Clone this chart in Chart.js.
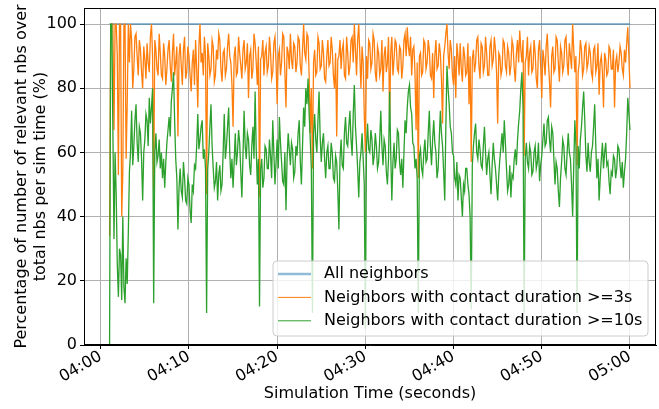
<!DOCTYPE html>
<html>
<head>
<meta charset="utf-8">
<script src="https://cdn.jsdelivr.net/npm/chart.js@4.4.0/dist/chart.umd.min.js"></script>
<style>
  html, body { margin: 0; padding: 0; background: #fff; }
</style>
</head>
<body>
<canvas id="nbChart" width="659" height="409"></canvas>
<script>
// samples every 7.5 s, starting one minute after 04:00 (8 samples per minute)
var startMinute = 1;
var stepMinute = 0.125;

var allNeighborsTimes = [1, 60];
var allNeighbors = [100, 100];

// one row per minute, 04:01 .. 04:59, then the 05:00 sample
var contact3s = [
  34, 100, 100, 100, 67, 100, 100, 90,
  53, 100, 100, 40, 54, 100, 100, 58,
  75, 100, 88, 100, 95, 80, 86, 96,
  97, 90, 84, 95, 92, 85, 80, 93,
  89, 83, 94, 88, 85, 96, 100, 90,
  48, 95, 92, 86, 84, 97, 91, 84,
  83, 94, 90, 81, 86, 92, 95, 87,
  82, 91, 97, 84, 88, 93, 65, 90,
  94, 87, 81, 92, 96, 83, 85, 93,
  90, 84, 79, 88, 92, 81, 95, 86,
  74, 93, 100, 88, 91, 84, 96, 90,
  47, 94, 90, 84, 86, 95, 93, 82,
  84, 92, 89, 97, 95, 86, 82, 91,
  92, 84, 86, 93, 97, 90, 88, 81,
  68, 90, 93, 84, 85, 96, 91, 87,
  83, 92, 95, 86, 88, 94, 77, 90,
  92, 83, 86, 97, 94, 88, 81, 93,
  46, 89, 90, 95, 84, 91, 93, 85,
  87, 96, 91, 83, 85, 94, 96, 88,
  75, 90, 92, 84, 88, 97, 96, 85,
  74, 93, 91, 86, 97, 89, 86, 94,
  93, 85, 88, 96, 95, 87, 84, 92,
  100, 91, 89, 97, 96, 84, 66, 80,
  55, 88, 92, 84, 85, 96, 94, 86,
  87, 95, 91, 83, 82, 90, 95, 87,
  88, 96, 92, 84, 80, 91, 65, 89,
  90, 95, 86, 92, 94, 84, 83, 96,
  91, 84, 87, 95, 96, 88, 100, 92,
  84, 95, 100, 90, 80, 93, 88, 72,
  60, 90, 83, 95, 94, 86, 88, 97,
  95, 85, 82, 93, 91, 84, 86, 95,
  79, 90, 93, 85, 88, 96, 70, 91,
  96, 84, 89, 95, 94, 86, 85, 93,
  92, 83, 87, 95, 97, 90, 99, 93,
  90, 96, 84, 92, 93, 85, 67, 88,
  52, 90, 91, 84, 85, 95, 94, 86,
  88, 95, 92, 84, 83, 91, 77, 90,
  95, 86, 87, 94, 91, 83, 69, 90,
  93, 97, 100, 91, 86, 95, 92, 84,
  81, 90, 77, 94, 90, 84, 94, 86,
  82, 93, 90, 84, 85, 94, 75, 90,
  57, 89, 92, 85, 88, 95, 96, 87,
  83, 94, 93, 85, 87, 96, 91, 84,
  84, 93, 95, 87, 89, 96, 92, 85,
  69, 91, 90, 84, 86, 95, 94, 87,
  85, 93, 91, 84, 87, 95, 93, 86,
  82, 91, 95, 88, 98, 92, 88, 95,
  59, 88, 90, 96, 84, 91, 93, 85,
  86, 95, 91, 83, 80, 92, 95, 87,
  77, 92, 89, 84, 93, 97, 88, 82,
  74, 90, 93, 85, 86, 96, 95, 88,
  82, 93, 91, 85, 87, 95, 96, 88,
  84, 94, 90, 86, 100, 92, 85, 90,
  56, 85, 88, 95, 92, 84, 86, 93,
  94, 86, 88, 93, 91, 85, 83, 92,
  93, 85, 87, 94, 78, 88, 90, 85,
  74, 91, 89, 84, 85, 93, 92, 86,
  86, 92, 74, 88, 90, 85, 88, 93,
  91, 86, 84, 92, 88, 94, 99, 90,
  80
];

var contact10s = [
  0, 100, 100, 67, 33, 60, 47, 25,
  15, 30, 28, 14, 40, 18, 13, 27,
  19, 35, 54, 60, 73, 56, 62, 70,
  75, 63, 57, 68, 66, 58, 45, 60,
  64, 72, 70, 62, 77, 69, 74, 80,
  13, 60, 66, 57, 59, 64, 55, 60,
  52, 58, 49, 57, 63, 67, 71, 65,
  76, 80, 85, 70, 58, 52, 36, 49,
  55, 48, 46, 57, 52, 45, 44, 52,
  50, 42, 38, 50, 48, 56, 55, 62,
  72, 61, 64, 68, 70, 58, 61, 55,
  10, 55, 60, 68, 75, 62, 55, 49,
  51, 57, 45, 53, 56, 48, 50, 60,
  72, 58, 62, 68, 74, 60, 52, 58,
  49, 57, 66, 56, 60, 67, 63, 54,
  46, 59, 73, 62, 58, 66, 64, 56,
  53, 62, 68, 58, 79, 61, 50, 58,
  12, 55, 58, 49, 52, 62, 61, 55,
  55, 64, 59, 52, 70, 60, 50, 57,
  64, 55, 71, 63, 57, 51, 50, 60,
  42, 58, 66, 61, 56, 63, 61, 52,
  54, 62, 59, 66, 70, 57, 50, 62,
  74, 68, 80, 75, 83, 72, 64, 55,
  10, 66, 72, 64, 60, 70, 79, 65,
  57, 63, 66, 58, 52, 60, 62, 55,
  55, 63, 60, 52, 51, 59, 57, 48,
  36, 58, 64, 56, 55, 66, 71, 63,
  62, 68, 73, 64, 59, 72, 81, 68,
  62, 55, 46, 57, 60, 66, 58, 50,
  5, 62, 69, 61, 60, 67, 64, 56,
  59, 66, 62, 55, 57, 64, 73, 62,
  56, 64, 62, 54, 50, 58, 79, 60,
  45, 57, 63, 55, 58, 67, 66, 57,
  53, 58, 49, 60, 70, 66, 74, 79,
  81, 74, 72, 63, 62, 55, 58, 52,
  10, 59, 61, 55, 53, 60, 64, 57,
  58, 66, 73, 62, 56, 64, 70, 63,
  60, 52, 55, 64, 73, 66, 62, 54,
  45, 68, 87, 80, 75, 68, 66, 60,
  59, 52, 50, 57, 45, 53, 52, 46,
  40, 50, 48, 55, 55, 50, 47, 40,
  11, 56, 62, 66, 69, 60, 58, 64,
  61, 56, 55, 62, 68, 60, 53, 58,
  60, 53, 47, 56, 63, 58, 55, 50,
  45, 53, 58, 62, 66, 60, 70, 63,
  55, 48, 50, 56, 46, 53, 52, 58,
  61, 56, 64, 69, 73, 80, 85, 74,
  10, 58, 63, 57, 55, 62, 60, 53,
  54, 60, 62, 55, 57, 63, 51, 56,
  59, 64, 69, 62, 63, 70, 71, 64,
  60, 68, 66, 58, 50, 57, 55, 48,
  43, 52, 57, 64, 62, 55, 53, 60,
  66, 60, 58, 50, 40, 56, 70, 62,
  10, 62, 55, 64, 68, 74, 79, 70,
  59, 54, 63, 57, 54, 60, 62, 68,
  75, 62, 52, 58, 45, 52, 58, 63,
  55, 60, 63, 56, 57, 51, 47, 54,
  53, 59, 58, 52, 55, 62, 61, 56,
  52, 57, 49, 54, 58, 66, 77, 72,
  67
];

var xTickValues = [0, 10, 20, 30, 40, 50, 60];
var xTickLabels = ['04:00', '04:10', '04:20', '04:30', '04:40', '04:50', '05:00'];
var yTickValues = [0, 20, 40, 60, 80, 100];

var seriesLabels = [
  'All neighbors',
  'Neighbors with contact duration >=3s',
  'Neighbors with contact duration >=10s'
];
var seriesColors = ['rgba(31,119,180,0.5)', '#ff7f0e', '#2ca02c'];
var seriesWidths = [2, 1.3, 1.3];

var FONT = 'DejaVu Sans';

function sampled(values) {
  return values.map(function(v, i) {
    return { x: startMinute + i * stepMinute, y: v };
  });
}

function paired(times, values) {
  return values.map(function(v, i) {
    return { x: times[i], y: v };
  });
}

// matplotlib style box around the axes
var framePlugin = {
  id: 'frame',
  afterDatasetsDraw: function(chart) {
    var a = chart.chartArea, ctx = chart.ctx;
    ctx.save();
    ctx.strokeStyle = '#000';
    ctx.lineWidth = 1;
    ctx.strokeRect(a.left + 0.5, a.top + 0.5, a.right - a.left - 1, a.bottom - a.top - 1);
    ctx.restore();
  }
};

// legend box in the lower right of the plot
var boxLegend = {
  id: 'boxLegend',
  afterDraw: function(chart, args, opts) {
    var ctx = chart.ctx;
    var x = opts.x, y = opts.y, w = opts.w, h = opts.h, r = 4;
    ctx.save();
    ctx.beginPath();
    ctx.moveTo(x + r, y);
    ctx.arcTo(x + w, y, x + w, y + h, r);
    ctx.arcTo(x + w, y + h, x, y + h, r);
    ctx.arcTo(x, y + h, x, y, r);
    ctx.arcTo(x, y, x + w, y, r);
    ctx.closePath();
    ctx.fillStyle = 'rgba(255,255,255,0.8)';
    ctx.fill();
    ctx.strokeStyle = '#cccccc';
    ctx.lineWidth = 1;
    ctx.stroke();

    ctx.font = '16px "' + FONT + '"';
    ctx.textBaseline = 'middle';
    ctx.fillStyle = '#000';
    chart.data.datasets.forEach(function(ds, i) {
      var ry = opts.firstRow + i * opts.rowGap;
      ctx.beginPath();
      ctx.strokeStyle = ds.borderColor;
      ctx.lineWidth = i === 0 ? 2.5 : 1;
      ctx.moveTo(x + 5, ry);
      ctx.lineTo(x + 38, ry);
      ctx.stroke();
      ctx.fillText(ds.label, x + 51, ry);
    });
    ctx.restore();
  }
};

function noScalePadding(scale) {
  scale.paddingTop = 0;
  scale.paddingBottom = 0;
  scale.paddingLeft = 0;
  scale.paddingRight = 0;
}

var ctx = document.getElementById('nbChart');

new Chart(ctx, {
  type: 'line',
  data: {
    datasets: [{
      label: seriesLabels[0],
      data: paired(allNeighborsTimes, allNeighbors),
      borderColor: seriesColors[0],
      borderWidth: seriesWidths[0],
      order: 3
    }, {
      label: seriesLabels[1],
      data: sampled(contact3s),
      borderColor: seriesColors[1],
      borderWidth: seriesWidths[1],
      order: 2
    }, {
      label: seriesLabels[2],
      data: sampled(contact10s),
      borderColor: seriesColors[2],
      borderWidth: seriesWidths[2],
      order: 1
    }]
  },
  options: {
    responsive: false,
    animation: false,
    devicePixelRatio: 1,
    elements: {
      point: { radius: 0 },
      line: { tension: 0, fill: false }
    },
    layout: { padding: { left: 0, right: 3, top: 8, bottom: 0 } },
    plugins: {
      legend: { display: false },
      tooltip: { enabled: false },
      boxLegend: { x: 273, y: 261, w: 375, h: 75, firstRow: 274, rowGap: 23.4 }
    },
    scales: {
      x: {
        type: 'linear',
        min: -1.9,
        max: 62.95,
        afterBuildTicks: function(scale) {
          scale.ticks = xTickValues.map(function(v) { return { value: v }; });
        },
        afterFit: function(scale) {
          scale.height = 64;
          noScalePadding(scale);
        },
        ticks: {
          autoSkip: false,
          minRotation: 30,
          maxRotation: 30,
          padding: -2,
          color: '#000',
          font: { family: FONT, size: 16 },
          callback: function(v) { return xTickLabels[xTickValues.indexOf(v)]; }
        },
        grid: { color: '#b0b0b0', tickColor: '#000', tickLength: 4 },
        border: { color: '#000' },
        title: {
          display: true,
          text: 'Simulation Time (seconds)',
          color: '#000',
          font: { family: FONT, size: 16, lineHeight: 1.2 },
          padding: { top: 0, bottom: 6 }
        }
      },
      y: {
        min: 0,
        max: 105,
        afterBuildTicks: function(scale) {
          scale.ticks = yTickValues.map(function(v) { return { value: v }; });
        },
        afterFit: function(scale) {
          scale.width = 84;
          noScalePadding(scale);
        },
        ticks: {
          padding: 3,
          color: '#000',
          font: { family: FONT, size: 16 }
        },
        grid: { color: '#b0b0b0', tickColor: '#000', tickLength: 4 },
        border: { color: '#000' },
        title: {
          display: true,
          text: ['Percentage of number of relevant nbs over', 'total nbs per sim time (%)'],
          color: '#000',
          font: { family: FONT, size: 16, lineHeight: 1.15 },
          padding: { top: 13, bottom: 0 }
        }
      }
    }
  },
  plugins: [framePlugin, boxLegend]
});
</script>
</body>
</html>
